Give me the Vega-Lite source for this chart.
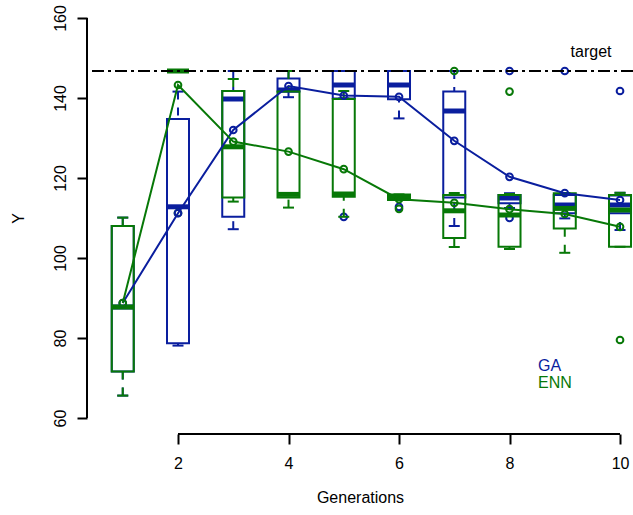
{
  "$schema": "https://vega.github.io/schema/vega-lite/v6.json",
  "width": 546,
  "height": 432,
  "autosize": {"type": "none"},
  "padding": {"left": 87, "top": 2, "right": 0, "bottom": 81},
  "background": "white",
  "config": {"font": "Liberation Sans", "view": {"stroke": null}},
  "datasets": {
    "boxes": [
      {"gen": 1, "alg": "GA", "lo": 65.6, "q1": 71.6, "med": 87.75, "q3": 108, "hi": 110.1},
      {"gen": 2, "alg": "GA", "lo": 78.1, "q1": 78.7, "med": 112.8, "q3": 134.75, "hi": 141.6},
      {"gen": 3, "alg": "GA", "lo": 107.2, "q1": 110.3, "med": 139.75, "q3": 141.75, "hi": 146.75},
      {"gen": 4, "alg": "GA", "lo": 140.2, "q1": 141.6, "med": 142, "q3": 144.9, "hi": 146.75},
      {"gen": 5, "alg": "GA", "lo": 139.9, "q1": 139.9, "med": 143.25, "q3": 146.75, "hi": 146.75},
      {"gen": 6, "alg": "GA", "lo": 134.9, "q1": 139.7, "med": 143.25, "q3": 146.75, "hi": 146.75},
      {"gen": 7, "alg": "GA", "lo": 108, "q1": 115.1, "med": 136.75, "q3": 141.6, "hi": 146.75},
      {"gen": 8, "alg": "GA", "lo": 112.5, "q1": 113.7, "med": 115, "q3": 115.75, "hi": 116.2},
      {"gen": 9, "alg": "GA", "lo": 109.9, "q1": 111.2, "med": 113.25, "q3": 115.75, "hi": 116.2},
      {"gen": 10, "alg": "GA", "lo": 107, "q1": 111.2, "med": 113.25, "q3": 115.6, "hi": 116.3},
      {"gen": 1, "alg": "ENN", "lo": 65.6, "q1": 71.6, "med": 87.75, "q3": 108, "hi": 110.1},
      {"gen": 2, "alg": "ENN", "lo": 146.75, "q1": 146.75, "med": 146.75, "q3": 146.75, "hi": 146.75},
      {"gen": 3, "alg": "ENN", "lo": 114.1, "q1": 115.1, "med": 127.8, "q3": 141.75, "hi": 144.75},
      {"gen": 4, "alg": "ENN", "lo": 112.6, "q1": 115.1, "med": 115.9, "q3": 141.6, "hi": 146.75},
      {"gen": 5, "alg": "ENN", "lo": 110.3, "q1": 115.3, "med": 116, "q3": 139.75, "hi": 141.75},
      {"gen": 6, "alg": "ENN", "lo": 114.5, "q1": 114.5, "med": 115.2, "q3": 115.9, "hi": 115.9},
      {"gen": 7, "alg": "ENN", "lo": 102.75, "q1": 105, "med": 111.8, "q3": 115.75, "hi": 116.25},
      {"gen": 8, "alg": "ENN", "lo": 102.25, "q1": 102.8, "med": 110.75, "q3": 115.75, "hi": 116},
      {"gen": 9, "alg": "ENN", "lo": 101.3, "q1": 107.4, "med": 112.4, "q3": 116.2, "hi": 116.2},
      {"gen": 10, "alg": "ENN", "lo": 102.8, "q1": 102.8, "med": 112, "q3": 115.75, "hi": 116.3}
    ],
    "outliers": [
      {"gen": 5, "alg": "GA", "value": 110.3},
      {"gen": 6, "alg": "GA", "value": 112.8},
      {"gen": 8, "alg": "GA", "value": 146.75},
      {"gen": 8, "alg": "GA", "value": 110},
      {"gen": 9, "alg": "GA", "value": 146.75},
      {"gen": 10, "alg": "GA", "value": 141.75},
      {"gen": 2, "alg": "ENN", "value": 111.25},
      {"gen": 6, "alg": "ENN", "value": 112.3},
      {"gen": 7, "alg": "ENN", "value": 146.75},
      {"gen": 8, "alg": "ENN", "value": 141.6},
      {"gen": 10, "alg": "ENN", "value": 79.5}
    ],
    "means": [
      {"gen": 1, "alg": "GA", "mean": 88.75},
      {"gen": 2, "alg": "GA", "mean": 111.2},
      {"gen": 3, "alg": "GA", "mean": 132},
      {"gen": 4, "alg": "GA", "mean": 143},
      {"gen": 5, "alg": "GA", "mean": 140.6},
      {"gen": 6, "alg": "GA", "mean": 140.3},
      {"gen": 7, "alg": "GA", "mean": 129.3},
      {"gen": 8, "alg": "GA", "mean": 120.3},
      {"gen": 9, "alg": "GA", "mean": 116.2},
      {"gen": 10, "alg": "GA", "mean": 114.5},
      {"gen": 1, "alg": "ENN", "mean": 88.75},
      {"gen": 2, "alg": "ENN", "mean": 143.25},
      {"gen": 3, "alg": "ENN", "mean": 129.1},
      {"gen": 4, "alg": "ENN", "mean": 126.6},
      {"gen": 5, "alg": "ENN", "mean": 122.2},
      {"gen": 6, "alg": "ENN", "mean": 114.7},
      {"gen": 7, "alg": "ENN", "mean": 113.8},
      {"gen": 8, "alg": "ENN", "mean": 112.2},
      {"gen": 9, "alg": "ENN", "mean": 111},
      {"gen": 10, "alg": "ENN", "mean": 107.8}
    ],
    "one": [{}]
  },
  "layer": [
    {
      "data": {"name": "means"},
      "mark": {"type": "line", "strokeWidth": 2, "opacity": 0},
      "encoding": {
        "x": {"field": "gen", "type": "quantitative", "scale": {"domain": [0.353, 10.235], "nice": false, "zero": false, "padding": 0},
              "axis": {"values": [2, 4, 6, 8, 10], "format": "d", "title": "Generations", "domain": false, "grid": false, "ticks": true, "tickSize": 10, "tickWidth": 2, "tickColor": "black", "labels": true, "labelFontSize": 16, "labelColor": "black", "labelBaseline": "alphabetic", "labelPadding": 24, "labelFlush": false, "labelOverlap": false, "titleFontSize": 16, "titleFontWeight": "normal", "titleColor": "black", "titleBaseline": "alphabetic", "titlePadding": 31}},
        "y": {"field": "mean", "type": "quantitative", "scale": {"domain": [56, 164], "nice": false, "zero": false, "padding": 0},
              "axis": {"values": [60, 80, 100, 120, 140, 160], "format": "d", "title": "Y", "domain": false, "grid": false, "ticks": true, "tickSize": 10, "tickWidth": 2, "tickColor": "black", "labels": true, "labelFontSize": 16, "labelColor": "black", "labelAngle": 270, "labelAlign": "center", "labelBaseline": "alphabetic", "labelPadding": 12, "labelFlush": false, "labelOverlap": false, "titleFontSize": 16, "titleFontWeight": "normal", "titleColor": "black", "titleAngle": 270, "titleBaseline": "alphabetic", "titlePadding": 29}},
        "color": {"field": "alg", "type": "nominal", "scale": {"domain": ["GA", "ENN"], "range": ["#0a1e9e", "#077807"]}, "legend": null}
      }
    },
    {
      "data": {"name": "boxes"},
      "transform": [{"filter": "datum.alg === 'GA'"}],
      "encoding": {
        "x": {"field": "gen", "type": "quantitative"},
        "color": {"field": "alg", "type": "nominal", "legend": null}
      },
      "layer": [
        {"mark": {"type": "rule", "strokeDash": [8, 8], "strokeWidth": 2},
         "encoding": {"y": {"field": "lo", "type": "quantitative"}, "y2": {"field": "q1"}}},
        {"mark": {"type": "rule", "strokeDash": [8, 8], "strokeWidth": 2},
         "encoding": {"y": {"field": "hi", "type": "quantitative"}, "y2": {"field": "q3"}}},
        {"mark": {"type": "tick", "orient": "horizontal", "size": 11, "thickness": 2, "opacity": 1},
         "encoding": {"y": {"field": "lo", "type": "quantitative"}}},
        {"mark": {"type": "tick", "orient": "horizontal", "size": 11, "thickness": 2, "opacity": 1},
         "encoding": {"y": {"field": "hi", "type": "quantitative"}}},
        {"mark": {"type": "bar", "size": 22, "filled": false, "strokeWidth": 2, "opacity": 1},
         "encoding": {"y": {"field": "q1", "type": "quantitative"}, "y2": {"field": "q3"}}},
        {"mark": {"type": "tick", "orient": "horizontal", "size": 22, "thickness": 5, "opacity": 1},
         "encoding": {"y": {"field": "med", "type": "quantitative"}}}
      ]
    },
    {
      "data": {"name": "outliers"},
      "transform": [{"filter": "datum.alg === 'GA'"}],
      "mark": {"type": "point", "filled": false, "size": 45, "strokeWidth": 2, "opacity": 1},
      "encoding": {
        "x": {"field": "gen", "type": "quantitative"},
        "y": {"field": "value", "type": "quantitative"},
        "color": {"field": "alg", "type": "nominal", "legend": null}
      }
    },
    {
      "data": {"name": "boxes"},
      "transform": [{"filter": "datum.alg === 'ENN'"}],
      "encoding": {
        "x": {"field": "gen", "type": "quantitative"},
        "color": {"field": "alg", "type": "nominal", "legend": null}
      },
      "layer": [
        {"mark": {"type": "rule", "strokeDash": [8, 8], "strokeWidth": 2},
         "encoding": {"y": {"field": "lo", "type": "quantitative"}, "y2": {"field": "q1"}}},
        {"mark": {"type": "rule", "strokeDash": [8, 8], "strokeWidth": 2},
         "encoding": {"y": {"field": "hi", "type": "quantitative"}, "y2": {"field": "q3"}}},
        {"mark": {"type": "tick", "orient": "horizontal", "size": 11, "thickness": 2, "opacity": 1},
         "encoding": {"y": {"field": "lo", "type": "quantitative"}}},
        {"mark": {"type": "tick", "orient": "horizontal", "size": 11, "thickness": 2, "opacity": 1},
         "encoding": {"y": {"field": "hi", "type": "quantitative"}}},
        {"mark": {"type": "bar", "size": 22, "filled": false, "strokeWidth": 2, "opacity": 1},
         "encoding": {"y": {"field": "q1", "type": "quantitative"}, "y2": {"field": "q3"}}},
        {"mark": {"type": "tick", "orient": "horizontal", "size": 22, "thickness": 5, "opacity": 1},
         "encoding": {"y": {"field": "med", "type": "quantitative"}}}
      ]
    },
    {
      "data": {"name": "outliers"},
      "transform": [{"filter": "datum.alg === 'ENN'"}],
      "mark": {"type": "point", "filled": false, "size": 45, "strokeWidth": 2, "opacity": 1},
      "encoding": {
        "x": {"field": "gen", "type": "quantitative"},
        "y": {"field": "value", "type": "quantitative"},
        "color": {"field": "alg", "type": "nominal", "legend": null}
      }
    },
    {
      "data": {"name": "means"},
      "mark": {"type": "line", "strokeWidth": 2},
      "encoding": {
        "x": {"field": "gen", "type": "quantitative"},
        "y": {"field": "mean", "type": "quantitative"},
        "color": {"field": "alg", "type": "nominal", "legend": null}
      }
    },
    {
      "data": {"name": "means"},
      "mark": {"type": "point", "filled": false, "size": 45, "strokeWidth": 2, "opacity": 1},
      "encoding": {
        "x": {"field": "gen", "type": "quantitative"},
        "y": {"field": "mean", "type": "quantitative"},
        "color": {"field": "alg", "type": "nominal", "legend": null}
      }
    },
    {
      "data": {"name": "one"},
      "mark": {"type": "rule", "strokeDash": [12, 4, 3, 4], "strokeWidth": 2, "color": "black"},
      "encoding": {
        "y": {"datum": 146.75, "type": "quantitative"}
      }
    },
    {
      "data": {"name": "one"},
      "mark": {"type": "rule", "strokeWidth": 2, "color": "black"},
      "encoding": {
        "x": {"datum": 2, "type": "quantitative"},
        "x2": {"datum": 10},
        "y": {"datum": 56, "type": "quantitative"}
      }
    },
    {
      "data": {"name": "one"},
      "mark": {"type": "rule", "strokeWidth": 2, "color": "black"},
      "encoding": {
        "x": {"datum": 0.353, "type": "quantitative"},
        "y": {"datum": 60, "type": "quantitative"},
        "y2": {"datum": 160}
      }
    },
    {
      "data": {"name": "one"},
      "mark": {"type": "text", "fontSize": 16, "align": "center", "baseline": "middle", "color": "black"},
      "encoding": {
        "x": {"datum": 9.475, "type": "quantitative"},
        "y": {"datum": 151.5, "type": "quantitative"},
        "text": {"value": "target"}
      }
    },
    {
      "data": {"name": "one"},
      "mark": {"type": "text", "fontSize": 16, "align": "left", "baseline": "middle", "color": "#0a1e9e"},
      "encoding": {
        "x": {"datum": 8.516, "type": "quantitative"},
        "y": {"datum": 73, "type": "quantitative"},
        "text": {"value": "GA"}
      }
    },
    {
      "data": {"name": "one"},
      "mark": {"type": "text", "fontSize": 16, "align": "left", "baseline": "middle", "color": "#077807"},
      "encoding": {
        "x": {"datum": 8.516, "type": "quantitative"},
        "y": {"datum": 68.75, "type": "quantitative"},
        "text": {"value": "ENN"}
      }
    }
  ]
}
